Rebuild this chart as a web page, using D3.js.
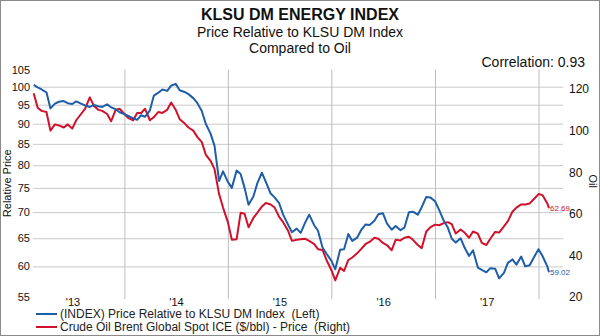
<!DOCTYPE html>
<html>
<head>
<meta charset="utf-8">
<script src="https://cdn.jsdelivr.net/npm/d3@7"></script>
<style>
  body { margin: 0; background: #fff; }
  svg text { font-family: "Liberation Sans", Arial, sans-serif; fill: #111; }
</style>
</head>
<body>
<svg width="600" height="336"></svg>
<script>
// semi-monthly observations
var dates = [
  "2013-02-15","2013-03-01","2013-03-15","2013-04-01","2013-04-15","2013-05-01","2013-05-15","2013-06-01","2013-06-15","2013-07-01","2013-07-15","2013-08-01","2013-08-15","2013-09-01","2013-09-15","2013-10-01","2013-10-15","2013-11-01","2013-11-15","2013-12-01","2013-12-15",
  "2014-01-01","2014-01-15","2014-02-01","2014-02-15","2014-03-01","2014-03-15","2014-04-01","2014-04-15","2014-05-01","2014-05-15","2014-06-01","2014-06-15","2014-07-01","2014-07-15","2014-08-01","2014-08-15","2014-09-01","2014-09-15","2014-10-01","2014-10-15","2014-11-01","2014-11-15","2014-12-01","2014-12-15",
  "2015-01-01","2015-01-15","2015-02-01","2015-02-15","2015-03-01","2015-03-15","2015-04-01","2015-04-15","2015-05-01","2015-05-15","2015-06-01","2015-06-15","2015-07-01","2015-07-15","2015-08-01","2015-08-15","2015-09-01","2015-09-15","2015-10-01","2015-10-15","2015-11-01","2015-11-15","2015-12-01","2015-12-15",
  "2016-01-01","2016-01-15","2016-02-01","2016-02-15","2016-03-01","2016-03-15","2016-04-01","2016-04-15","2016-05-01","2016-05-15","2016-06-01","2016-06-15","2016-07-01","2016-07-15","2016-08-01","2016-08-15","2016-09-01","2016-09-15","2016-10-01","2016-10-15","2016-11-01","2016-11-15","2016-12-01","2016-12-15",
  "2017-01-01","2017-01-15","2017-02-01","2017-02-15","2017-03-01","2017-03-15","2017-04-01","2017-04-15","2017-05-01","2017-05-15","2017-06-01","2017-06-15","2017-07-01","2017-07-15","2017-08-01","2017-08-15","2017-09-01","2017-09-15","2017-10-01","2017-10-15","2017-11-01","2017-11-15","2017-12-01","2017-12-15",
  "2018-01-01","2018-01-15","2018-02-01","2018-02-07"
];

// price relative to KLSU DM index (left axis)
var relPrice = [
  100.5, 99.8, 99.2, 98.4, 94.0, 95.3, 95.8, 96.0, 95.4, 95.2, 95.9, 95.3, 94.8, 94.4, 94.9, 94.6, 94.4, 95.1, 94.3, 93.8, 93.0,
  92.5, 92.0, 91.4, 91.0, 92.2, 91.8, 93.5, 97.5, 98.3, 99.2, 98.8, 100.3, 100.8, 99.0, 98.5, 97.9, 96.8, 95.5, 93.3, 90.0, 87.5, 84.5, 76.5, 78.6,
  76.3, 75.0, 78.8, 78.0, 75.0, 71.5, 73.2, 76.0, 78.3, 76.3, 73.8, 73.0, 71.8, 69.5, 67.6, 66.1, 66.8, 66.0, 68.0, 69.5, 67.5, 66.4, 63.3, 62.2,
  61.0, 59.5, 62.9, 63.0, 65.8, 64.5, 65.1, 66.5, 67.6, 67.5, 68.3, 69.6, 69.8, 67.8, 66.6, 67.3, 66.5, 67.0, 70.0, 70.1, 69.5, 71.0, 73.1, 73.0,
  72.2, 70.5, 68.3, 67.0, 64.9, 64.2, 65.0, 63.3, 61.8, 62.8, 59.8, 59.4, 59.0, 59.7, 59.6, 58.0, 58.9, 60.6, 61.2, 60.3, 61.7, 60.0, 60.2, 61.5,
  63.0, 61.8, 60.0, 59.02
];

// Brent spot, $/bbl (right axis)
var brent = [
  118, 111, 109.5, 109, 100, 103, 102.5, 101.5, 103, 101, 105, 108, 110.5, 116, 112, 110, 109.5, 108, 104.5, 110, 110.5,
  108, 106, 105, 108.5, 108.5, 110.5, 105, 106.5, 109, 108.5, 110, 113.5, 110, 105.5, 103.5, 101.5, 100, 97, 94.5, 88.5, 85.5, 81.5, 69.5, 63,
  56, 47.5, 47.8, 60.5, 60.0, 53.5, 58.0, 60.5, 63.5, 65.2, 64.5, 63.0, 58.5, 56, 52, 47, 47.5, 47.8, 48.0, 47.0, 45.5, 43.0, 42.6, 37.8,
  33.0, 28.0, 34.0, 32.5, 37.8, 39.0, 41.0, 43.0, 45.5, 46.5, 48.5, 48.0, 46.0, 45.0, 42.5, 47.5, 47.2, 48.5, 49.0, 47.5, 45.0, 43.5, 51.5, 53.5,
  54.8, 54.5, 55.5, 56.0, 55.0, 50.5, 52.5, 51.0, 48.5, 51.5, 50.5, 46.0, 45.0, 48.0, 51.3, 51.0, 54.0, 56.5, 61.0, 63.0, 64.5, 64.5, 65.0, 67.0,
  69.5, 69.0, 65.0, 62.69
];

var leftTicks = [55, 60, 65, 70, 75, 80, 85, 90, 95, 100, 105];
var leftGrid = [60, 65, 70, 75, 80, 85, 90, 95, 100];
var rightTicks = [20, 40, 60, 80, 100, 120];
var yearStarts = ["2014-01-01", "2015-01-01", "2016-01-01", "2017-01-01", "2018-01-01"];
var yearLabels = ["2013-07-02", "2014-07-02", "2015-07-02", "2016-07-02", "2017-07-02"];

var legendNames = ["(INDEX) Price Relative to KLSU DM Index  (Left)",
                   "Crude Oil Brent Global Spot ICE ($/bbl) - Price  (Right)"];

var BLUE = "#1e5ea8", RED = "#d0112b";

function main() {
  var svg = d3.select("svg");
  var parse = d3.timeParse("%Y-%m-%d");

  var left = 33, right = 563, top = 69.5, bottom = 297;

  var rows = dates.map(function(d, i) {
    return { date: parse(d), rel: relPrice[i], oil: brent[i] };
  });

  // frame
  svg.append("rect")
    .attr("x", 0.5).attr("y", 0.5)
    .attr("width", 599).attr("height", 335)
    .attr("fill", "#fff").attr("stroke", "#8a8a8a");

  var x = d3.scaleTime()
    .domain([parse("2013-02-15"), parse("2018-02-07")])
    .range([33.7, 549]);
  var yL = d3.scaleLog().domain([55, 105]).range([bottom, top]);
  var yR = d3.scaleLinear().domain([20, 129.4]).range([bottom, top]);

  // grid
  svg.append("g")
    .attr("transform", "translate(" + left + ",0)")
    .call(d3.axisLeft(yL).tickValues(leftGrid).tickSize(-(right - left)).tickFormat(""))
    .call(function(g) { g.select(".domain").remove(); })
    .selectAll("line").attr("stroke", "#c9c9c9");

  svg.append("g")
    .attr("transform", "translate(0," + (bottom + 2) + ")")
    .call(d3.axisBottom(x).tickValues(yearStarts.map(parse)).tickSize(-(bottom + 2 - top)).tickFormat(""))
    .call(function(g) { g.select(".domain").remove(); })
    .selectAll("line").attr("stroke", "#bdbdbd");

  // axes
  svg.append("g")
    .attr("transform", "translate(" + left + ",0)")
    .call(d3.axisLeft(yL).tickValues(leftTicks).tickSize(0).tickPadding(3).tickFormat(d3.format("d")))
    .call(function(g) { g.select(".domain").remove(); })
    .selectAll("text").attr("font-size", 11).attr("fill", "#222");

  svg.append("g")
    .attr("transform", "translate(" + (right + 4) + ",0)")
    .call(d3.axisRight(yR).tickValues(rightTicks).tickSize(0).tickPadding(2))
    .call(function(g) { g.select(".domain").remove(); })
    .selectAll("text").attr("font-size", 12).attr("fill", "#222");

  svg.append("g")
    .attr("transform", "translate(0," + (bottom - 1) + ")")
    .call(d3.axisBottom(x).tickValues(yearLabels.map(parse)).tickSize(0).tickPadding(2)
      .tickFormat(d3.timeFormat("'%y")))
    .call(function(g) { g.select(".domain").remove(); })
    .selectAll("text").attr("font-size", 11).attr("fill", "#222");

  svg.append("text")
    .attr("transform", "translate(11," + ((top + bottom) / 2) + ") rotate(-90)")
    .attr("text-anchor", "middle")
    .attr("font-size", 11)
    .text("Relative Price");

  svg.append("text")
    .attr("transform", "translate(589," + ((top + bottom) / 2 - 2) + ") rotate(90)")
    .attr("text-anchor", "middle")
    .attr("font-size", 11)
    .text("Oil");

  // titles
  svg.append("text").attr("x", 300).attr("y", 20)
    .attr("text-anchor", "middle").attr("font-size", 16).attr("font-weight", "bold")
    .text("KLSU DM ENERGY INDEX");
  svg.append("text").attr("x", 300).attr("y", 37)
    .attr("text-anchor", "middle").attr("font-size", 14)
    .text("Price Relative to KLSU DM Index");
  svg.append("text").attr("x", 300).attr("y", 53)
    .attr("text-anchor", "middle").attr("font-size", 14)
    .text("Compared to Oil");
  svg.append("text").attr("x", 585).attr("y", 67)
    .attr("text-anchor", "end").attr("font-size", 14)
    .text("Correlation: 0.93");

  // series
  var relLine = d3.line().x(function(d) { return x(d.date); }).y(function(d) { return yL(d.rel); });
  var oilLine = d3.line().x(function(d) { return x(d.date); }).y(function(d) { return yR(d.oil); });

  svg.append("path").datum(rows)
    .attr("fill", "none").attr("stroke", RED).attr("stroke-width", 2)
    .attr("stroke-linejoin", "round").attr("d", oilLine);
  svg.append("path").datum(rows)
    .attr("fill", "none").attr("stroke", BLUE).attr("stroke-width", 2)
    .attr("stroke-linejoin", "round").attr("d", relLine);

  // last values
  var last = rows[rows.length - 1];
  svg.append("text")
    .attr("x", x(last.date) + 1).attr("y", yR(last.oil) + 3)
    .attr("font-size", 8).style("fill", RED)
    .text(d3.format(".2f")(last.oil));
  svg.append("text")
    .attr("x", x(last.date) + 1).attr("y", yL(last.rel) + 3)
    .attr("font-size", 8).style("fill", BLUE)
    .text(d3.format(".2f")(last.rel));

  // legend
  var leg = svg.append("g").selectAll("g")
    .data(legendNames).enter().append("g")
    .attr("transform", function(d, i) { return "translate(36," + (314 + i * 13) + ")"; });
  leg.append("line")
    .attr("x1", 0).attr("x2", 21)
    .attr("stroke", function(d, i) { return i ? RED : BLUE; })
    .attr("stroke-width", 2);
  leg.append("text")
    .attr("x", 24).attr("y", 4)
    .attr("font-size", 12)
    .style("fill", "#222")
    .style("white-space", "pre")
    .text(function(d) { return d; });
}
main();
</script>
</body>
</html>
